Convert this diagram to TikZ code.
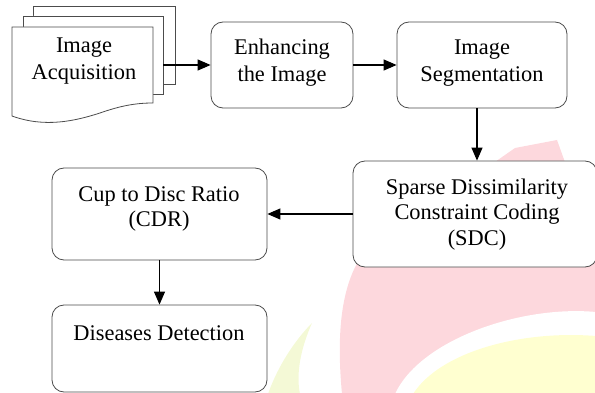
\documentclass[tikz,border=0pt]{standalone}
\usepackage{fontspec}
\setmainfont{Liberation Serif}
\usetikzlibrary{arrows.meta}
\definecolor{wmpink}{RGB}{253,216,221}
\definecolor{wmyellow}{RGB}{255,255,208}
\definecolor{wmgreen}{RGB}{244,249,214}
\begin{document}
\begin{tikzpicture}[x=1pt,y=-1pt,
  box/.style={draw=black!70, line width=0.8pt, rounded corners=12pt, fill=white, inner sep=0pt},
  txt/.style={anchor=base, font=\fontsize{22.4}{25}\selectfont, inner sep=0pt},
  page/.style={draw=black!70, line width=0.8pt, fill=white},
  arr/.style={draw=black, line width=1.1pt, -{Triangle[length=13pt,width=11pt]}},
]
\useasboundingbox (0,0) rectangle (595,393);
% watermark (background)
\fill[wmpink] (342,394) .. controls (336,330) and (342,285) .. (362,255) -- (515,148) -- (557,140) -- (566,165) -- (596,165) -- (596,394) -- cycle;
\fill[white] (395,394) .. controls (420,340) and (520,305) .. (596,312) -- (596,394) -- cycle;
\fill[wmyellow] (413,394) .. controls (440,352) and (520,330) .. (596,336) -- (596,394) -- cycle;
\fill[wmgreen] (268,394) .. controls (280,360) and (300,335) .. (312,323) .. controls (300,350) and (296,375) .. (300,394) -- cycle;

% document stack
\draw[page] (33,16) -- (33,6) -- (175,6) -- (175,84) -- (163,84);
\draw[page] (23,27) -- (23,16) -- (163,16) -- (163,94) -- (153,94);
\draw[page] (12,116) -- (12,27) -- (153,27) -- (153,103)
  .. controls (135,103) and (120,106) .. (100,113)
  .. controls (75,121) and (45,128) .. (12,116) -- cycle;
\coordinate (docout) at (163,65);
\node[txt] (acq1) at (84,53) {Image};
\node[txt] (acq2) at (84,80) {Acquisition};

% boxes
\node[box, minimum width=142pt, minimum height=86pt] (enh) at (282,65) {};
\node[txt] (enh1) at (282,55) {Enhancing};
\node[txt] (enh2) at (282,82) {the Image};

\node[box, minimum width=170pt, minimum height=86pt] (seg) at (482,65) {};
\node[txt] (seg1) at (482,55) {Image};
\node[txt] (seg2) at (482,82) {Segmentation};

\node[box, minimum width=244pt, minimum height=106pt] (sdc) at (475,214) {};
\node[txt] (sdc1) at (477,195) {Sparse Dissimilarity};
\node[txt] (sdc2) at (477,220) {Constraint Coding};
\node[txt] (sdc3) at (477,245) {(SDC)};

\node[box, minimum width=215pt, minimum height=92pt] (cdr) at (159.5,214) {};
\node[txt] (cdr1) at (159,202) {Cup to Disc Ratio};
\node[txt] (cdr2) at (159,227) {(CDR)};

\node[box, minimum width=215pt, minimum height=87pt] (dis) at (159.5,348.5) {};
\node[txt] (dis1) at (159,340) {Diseases Detection};

% connectors
\coordinate (vx) at (477,0);
\draw[arr] (docout) -- (enh.west);
\draw[arr] (enh.east) -- (seg.west);
\draw[arr] (seg.south -| vx) -- (sdc.north -| vx);
\draw[arr] (sdc.west) -- (cdr.east);
\draw[arr] (cdr.south) -- (dis.north);
\end{tikzpicture}
\end{document}
